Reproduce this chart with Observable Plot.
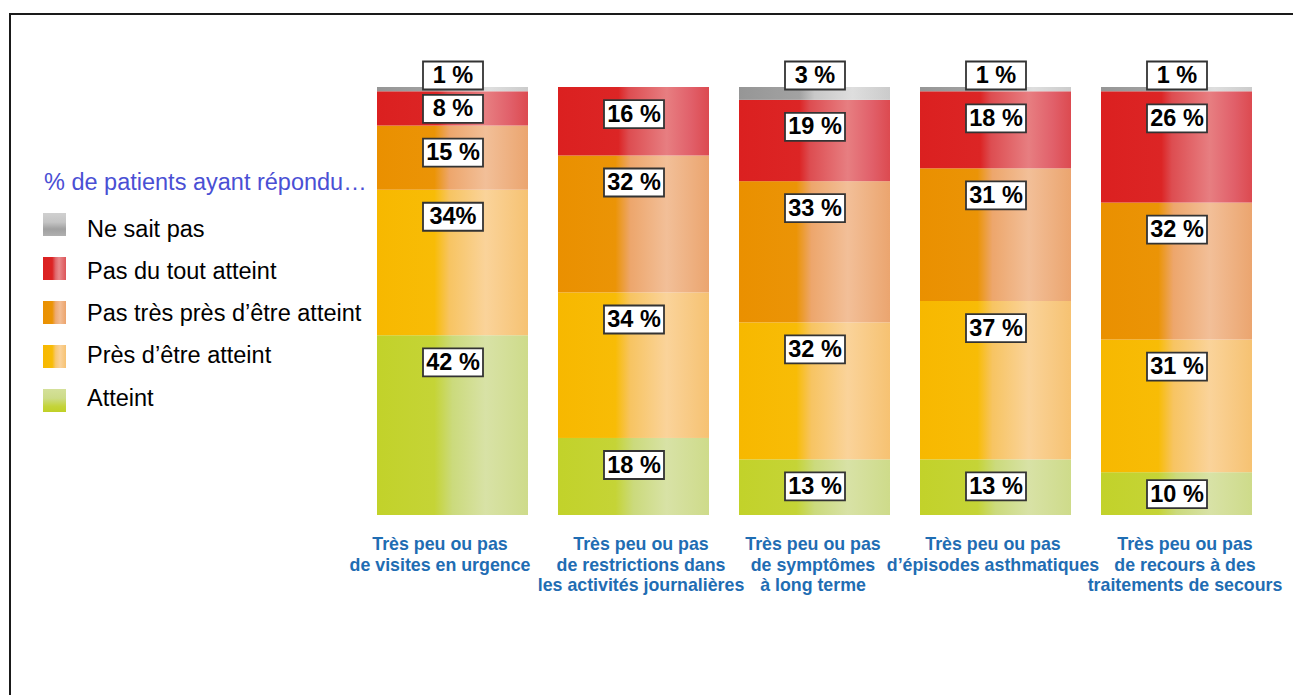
<!DOCTYPE html>
<html>
<head>
<meta charset="utf-8">
<script src="https://cdn.jsdelivr.net/npm/d3@7"></script>
<script src="https://cdn.jsdelivr.net/npm/@observablehq/plot@0.6"></script>
<style>
  html, body { margin: 0; padding: 0; background: #fff; overflow: hidden; }
  body { width: 1293px; height: 695px; position: relative; font-family: "Liberation Sans", Arial, sans-serif; }
  #chart { position: absolute; left: 0; top: 0; }
  #frame { position: absolute; left: 9px; top: 13px; width: 1400px; height: 800px; border-top: 2px solid #1a1a1a; border-left: 2px solid #1a1a1a; pointer-events: none; }
  #legend-title { position: absolute; left: 44px; top: 171px; font-size: 23.5px; line-height: 22px; color: #4a4fd4; white-space: nowrap; }
  .lg-sw { position: absolute; left: 43px; width: 23px; height: 23px; }
  .lg-tx { position: absolute; left: 87px; font-size: 23.5px; line-height: 22px; color: #000; white-space: nowrap; }
</style>
</head>
<body>
<div id="chart"></div>
<div id="legend"></div>
<div id="frame"></div>
<script>
// ---- data ----
const categories = [
  "Très peu ou pas\nde visites en urgence",
  "Très peu ou pas\nde restrictions dans\nles activités journalières",
  "Très peu ou pas\nde symptômes\nà long terme",
  "Très peu ou pas\nd’épisodes asthmatiques",
  "Très peu ou pas\nde recours à des\ntraitements de secours"
];
// stacking order, bottom to top
const series = ["Atteint", "Près d’être atteint", "Pas très près d’être atteint", "Pas du tout atteint", "Ne sait pas"];
const atteint      = [42, 18, 13, 13, 10];
const presAtteint  = [34, 34, 32, 37, 31];
const pasTresPres  = [15, 32, 33, 31, 32];
const pasDuTout    = [8, 16, 19, 18, 26];
const neSaitPas    = [1, 0, 3, 1, 1];
const seriesValues = [atteint, presAtteint, pasTresPres, pasDuTout, neSaitPas];
// legend order, top to bottom
const legendOrder = ["Ne sait pas", "Pas du tout atteint", "Pas très près d’être atteint", "Près d’être atteint", "Atteint"];
const legendTitle = "% de patients ayant répondu…";

// horizontal nudges of the category labels (px), as in the original layout
const labelNudge = [-13, 7, -2, -3, 8];

// gradient colours per series (left → right)
const gradients = {
  "Atteint":                       [[0, "#c2d22a"], [0.38, "#c5d436"], [0.5, "#cbda7c"], [0.72, "#d8e2a6"], [1, "#cedb8a"]],
  "Près d’être atteint":           [[0, "#f7b800"], [0.38, "#f8bc06"], [0.48, "#f7c462"], [0.72, "#fad39a"], [1, "#f6c272"]],
  "Pas très près d’être atteint":  [[0, "#ea9000"], [0.38, "#eb9406"], [0.48, "#eda66c"], [0.72, "#f2bf98"], [1, "#eba56f"]],
  "Pas du tout atteint":           [[0, "#db2020"], [0.40, "#dc2525"], [0.47, "#dd4d51"], [0.72, "#e77e81"], [0.88, "#e1606a"], [1, "#dc4a50"]],
  "Ne sait pas":                   [[0, "#969696"], [0.40, "#a2a2a2"], [0.5, "#c8c8c8"], [0.75, "#dedede"], [1, "#cbcbcb"]]
};
const legendGradients = {
  "Ne sait pas":                  "linear-gradient(180deg, #d0d0d0 0%, #c4c4c4 40%, #a0a0a0 70%, #b0b0b0 100%)",
  "Pas du tout atteint":          "linear-gradient(90deg, #db2020 0%, #dc2424 40%, #e06a6e 55%, #e88a8c 70%, #dd5458 100%)",
  "Pas très près d’être atteint": "linear-gradient(90deg, #ea9000 0%, #eb9406 40%, #eeaa72 55%, #f2bd94 75%, #eca46c 100%)",
  "Près d’être atteint":          "linear-gradient(90deg, #f7b800 0%, #f8bc06 40%, #f8c870 55%, #fad29a 75%, #f6c272 100%)",
  "Atteint":                      "linear-gradient(180deg, #d4e09a 0%, #cddc88 40%, #c4d43a 75%, #c0d026 100%)"
};

// ---- table (derived) ----
const rows = [];
categories.forEach((cat, i) => {
  let cum = 0;
  series.forEach((s, j) => {
    const v = seriesValues[j][i];
    if (v > 0) {
      rows.push({cat, ci: i, series: s, si: j, v, y1: cum, y2: cum + v});
    }
    cum += v;
  });
});
rows.forEach(d => {
  d.ly = d.series === "Ne sait pas" ? d.y2 + 2.8 : Math.max(d.y2 - 6.2, (d.y1 + d.y2) / 2);
  d.label = (d.ci === 0 && d.series === "Près d’être atteint") ? `${d.v}%` : `${d.v} %`;
});

const boxSymbol = {
  draw(ctx) {
    ctx.moveTo(-30, -14); ctx.lineTo(30, -14); ctx.lineTo(30, 14); ctx.lineTo(-30, 14); ctx.closePath();
  }
};

const font = "'Liberation Sans', Arial, sans-serif";
const svg = Plot.plot({
  width: 1293,
  height: 695,
  marginLeft: 376,
  marginRight: 40,
  marginTop: 87,
  marginBottom: 180,
  style: {fontFamily: font, background: "transparent", overflow: "visible"},
  x: {domain: categories, paddingInner: 0.165, paddingOuter: 0, axis: null},
  y: {domain: [0, 100], axis: null},
  color: {domain: series, range: series.map((s, i) => `url(#grad${i})`)},
  marks: [
    Plot.barY(rows, {x: "cat", y1: "y1", y2: "y2", fill: "series", inset: 0}),
    Plot.dot(rows, {x: "cat", y: "ly", symbol: boxSymbol, r: 10, fill: "white", stroke: "#333", strokeWidth: 1.8}),
    Plot.text(rows, {x: "cat", y: "ly", text: "label", fontSize: 23.5, fontWeight: "bold", fill: "#000"}),
    ...categories.map((c, i) => Plot.text([c], {x: d => d, frameAnchor: "bottom", text: d => d, dy: 20, dx: labelNudge[i],
      lineAnchor: "top", lineHeight: 1.15, fontSize: 17.8, fontWeight: "bold", fill: "#1f6db3"}))
  ]
});

// gradient defs
const defs = d3.select(svg).insert("defs", ":first-child");
series.forEach((s, i) => {
  const g = defs.append("linearGradient").attr("id", `grad${i}`).attr("x1", 0).attr("x2", 1).attr("y1", 0).attr("y2", 0);
  gradients[s].forEach(([o, c]) => g.append("stop").attr("offset", o).attr("stop-color", c));
});
document.getElementById("chart").appendChild(svg);

// legend (HTML)
const lg = d3.select("#legend");
lg.append("div").attr("id", "legend-title").text(legendTitle);
legendOrder.forEach((s, i) => {
  lg.append("div").attr("class", "lg-sw").style("top", `${213 + i * 44}px`).style("background", legendGradients[s]);
  lg.append("div").attr("class", "lg-tx").style("top", `${237 + i * 42.2 - 19.2}px`).text(s);
});
</script>
</body>
</html>
